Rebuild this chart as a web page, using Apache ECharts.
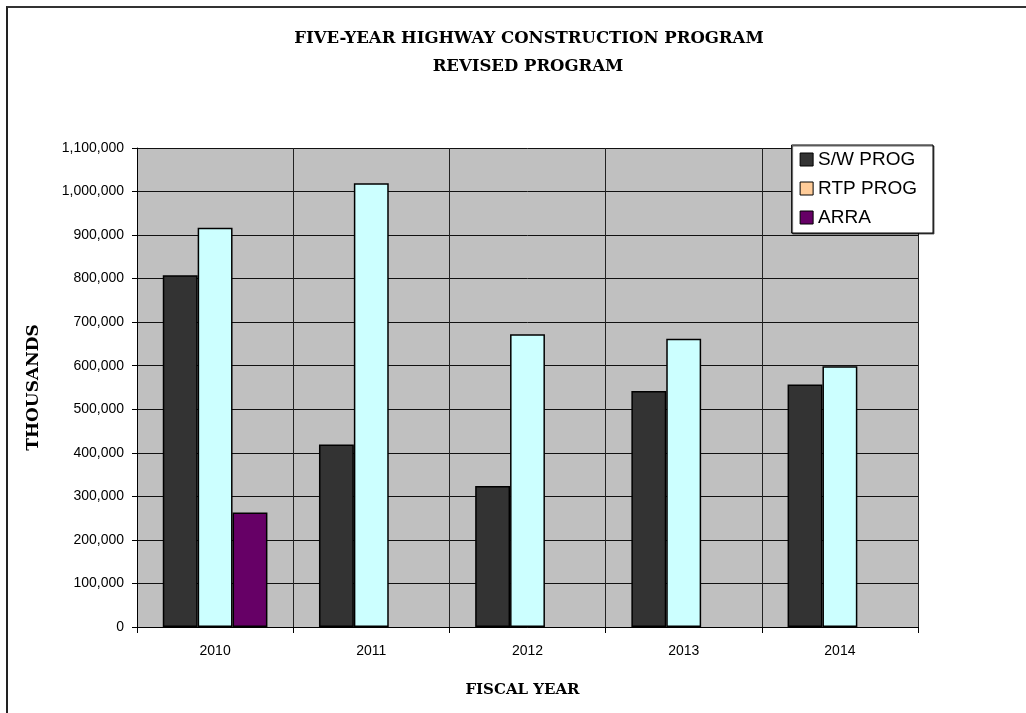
<!DOCTYPE html>
<html>
<head>
<meta charset="utf-8">
<script src="https://cdn.jsdelivr.net/npm/echarts@6/dist/echarts.min.js"></script>
<style>
html,body{margin:0;padding:0;background:#fff;overflow:hidden;}
#frame{position:absolute;left:6px;top:6px;width:2000px;height:2000px;border-left:2px solid #222;border-top:2px solid #333;}
#chart{position:absolute;left:0;top:0;width:1026px;height:713px;}
</style>
</head>
<body>
<div id="frame"></div>
<div id="chart"></div>
<script>
const categories = ['2010', '2011', '2012', '2013', '2014'];
const swProg = [808000, 419000, 324000, 542000, 557000];
const rtpProg = [917000, 1019000, 672000, 662000, 599000];
const arra = [263000, null, null, null, null];
const yTicks = { min: 0, max: 1100000, interval: 100000 };

const chart = echarts.init(document.getElementById('chart'));
const serif = '"DejaVu Serif", "Liberation Serif", serif';
const sans = '"Liberation Sans", Arial, sans-serif';

chart.setOption({
  backgroundColor: 'transparent',
  animation: false,
  title: [
    { text: 'FIVE-YEAR HIGHWAY CONSTRUCTION PROGRAM', left: 524, textAlign: 'center', top: 25,
      textStyle: { fontFamily: serif, fontWeight: 'bold', fontSize: 16.5, color: '#000' } },
    { text: 'REVISED PROGRAM', left: 523, textAlign: 'center', top: 53,
      textStyle: { fontFamily: serif, fontWeight: 'bold', fontSize: 16.5, color: '#000' } }
  ],
  legend: {
    orient: 'vertical',
    right: 93, top: 145,
    backgroundColor: '#fff',
    borderColor: '#000',
    borderWidth: 1,
    padding: [5, 16, 6, 8],
    itemGap: 10,
    itemWidth: 13, itemHeight: 13,
    icon: 'rect',
    textStyle: { fontFamily: sans, fontSize: 19, color: '#000' },
    shadowColor: 'rgba(0,0,0,0.6)', shadowOffsetX: 1, shadowOffsetY: 1,
    data: [
      { name: 'S/W PROG', itemStyle: { color: '#333333', borderColor: '#000', borderWidth: 1 } },
      { name: 'RTP PROG', itemStyle: { color: '#FFCC99', borderColor: '#000', borderWidth: 1 } },
      { name: 'ARRA', itemStyle: { color: '#660066', borderColor: '#000', borderWidth: 1 } }
    ]
  },
  grid: { left: 137, right: 108, top: 148, bottom: 86, containLabel: false,
          show: true, backgroundColor: '#C0C0C0', borderWidth: 0 },
  xAxis: {
    type: 'category',
    data: categories,
    name: 'FISCAL YEAR',
    nameLocation: 'middle',
    nameGap: 56,
    nameTextStyle: { fontFamily: serif, fontWeight: 'bold', fontSize: 15, color: '#000', padding: [0, 10, 0, 0] },
    axisLine: { show: true, lineStyle: { color: '#000', width: 1 } },
    axisTick: { show: true, length: 6, lineStyle: { color: '#000' } },
    axisLabel: { fontFamily: sans, fontSize: 14, color: '#000', margin: 17 },
    splitLine: { show: true, lineStyle: { color: '#222', width: 1 } }
  },
  yAxis: {
    type: 'value',
    min: yTicks.min, max: yTicks.max, interval: yTicks.interval,
    name: 'THOUSANDS',
    nameLocation: 'middle',
    nameGap: 95,
    nameRotate: 90,
    nameTextStyle: { fontFamily: serif, fontWeight: 'bold', fontSize: 17, color: '#000' },
    axisLine: { show: true, lineStyle: { color: '#000', width: 1 } },
    axisTick: { show: true, length: 5, lineStyle: { color: '#000' } },
    axisLabel: { fontFamily: sans, fontSize: 14, color: '#000', margin: 13,
      formatter: v => v.toLocaleString('en-US') },
    splitLine: { show: true, lineStyle: { color: '#111', width: 1 } }
  },
  series: [
    { name: 'S/W PROG', type: 'bar', data: swProg, barGap: '0%', barCategoryGap: '33%',
      itemStyle: { color: '#333333', borderColor: '#000', borderWidth: 1.5 } },
    { name: 'RTP PROG', type: 'bar', data: rtpProg, barGap: '0%', barCategoryGap: '33%',
      itemStyle: { color: '#CCFFFF', borderColor: '#000', borderWidth: 1.5 } },
    { name: 'ARRA', type: 'bar', data: arra, barGap: '0%', barCategoryGap: '33%',
      itemStyle: { color: '#660066', borderColor: '#000', borderWidth: 1.5 } }
  ]
});
</script>
</body>
</html>
